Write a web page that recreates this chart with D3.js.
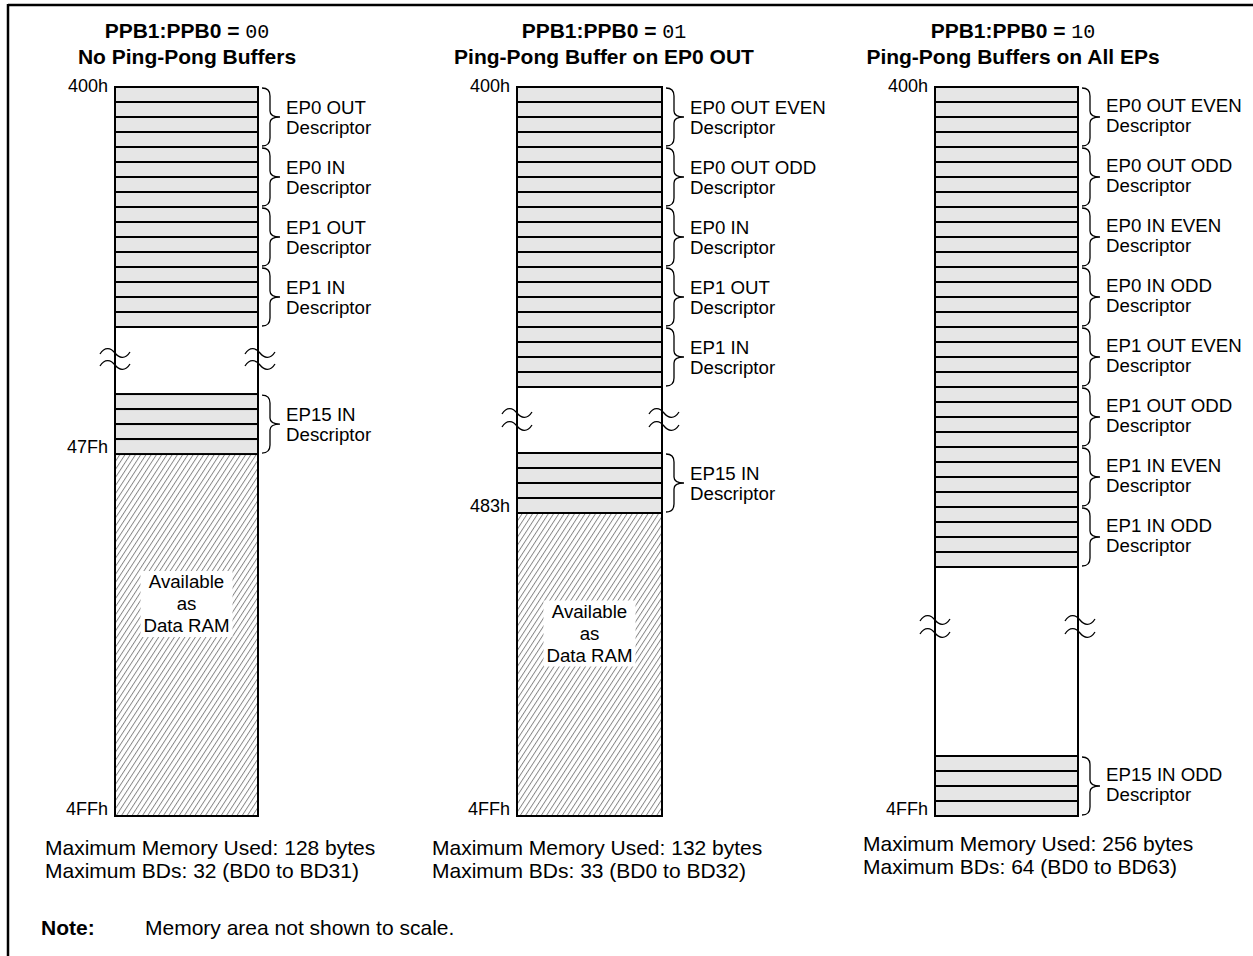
<!DOCTYPE html>
<html><head><meta charset="utf-8">
<script src="https://cdn.jsdelivr.net/npm/d3@7"></script>
<style>
body{margin:0;background:#fff}
svg{display:block}
text{font-family:"Liberation Sans",Arial,sans-serif;fill:#000}
</style>
</head><body><svg id="c" width="1253" height="956"></svg>
<script>
// ---------- data ----------
const titlePrefix = "PPB1:PPB0 = ";
const modeCodes = ["00", "01", "10"];
const subtitles = ["No Ping-Pong Buffers", "Ping-Pong Buffer on EP0 OUT", "Ping-Pong Buffers on All EPs"];
const descriptors00 = ["EP0 OUT", "EP0 IN", "EP1 OUT", "EP1 IN"];
const descriptors01 = ["EP0 OUT EVEN", "EP0 OUT ODD", "EP0 IN", "EP1 OUT", "EP1 IN"];
const descriptors10 = ["EP0 OUT EVEN", "EP0 OUT ODD", "EP0 IN EVEN", "EP0 IN ODD", "EP1 OUT EVEN", "EP1 OUT ODD", "EP1 IN EVEN", "EP1 IN ODD"];
const lastDescriptors = ["EP15 IN", "EP15 IN", "EP15 IN ODD"];
const descriptorWord = "Descriptor";
const startAddresses = ["400h", "400h", "400h"];
const bdEndAddresses = ["47Fh", "483h", null];
const endAddresses = ["4FFh", "4FFh", "4FFh"];
const maxMemoryBytes = [128, 132, 256];
const maxBDs = [32, 33, 64];
const bdRanges = ["BD0 to BD31", "BD0 to BD32", "BD0 to BD63"];
const bytesPerDescriptor = 4;
const freeRamLabel = ["Available", "as", "Data RAM"];
const noteLabel = "Note:";
const noteText = "Memory area not shown to scale.";

// ---------- layout ----------
const W = 1253, H = 956;
const svg = d3.select("#c");
const boxX = [[115, 258], [517, 662], [935, 1078]];
const titleCx = [187, 604, 1013];
const gapUnits = [4.47, 4.4, 12.6];
const totalUnits = 48.6;
const boxTop = 87, unitPx = 15;
const breakOffsets = [[26, 38], [26, 39], [53, 66]];
const footerX = [45, 432, 863];
const footerY = [[855, 878], [855, 878], [851, 874]];
const labelShift = [-2, -2, -4];
const descLists = [descriptors00, descriptors01, descriptors10];

const defs = svg.append("defs");
const pat = defs.append("pattern").attr("id", "hatch").attr("patternUnits", "userSpaceOnUse")
  .attr("width", 4.4).attr("height", 10).attr("patternTransform", "rotate(33)");
pat.append("line").attr("x1", 0.5).attr("y1", 0).attr("x2", 0.5).attr("y2", 10)
  .attr("stroke", "#666").attr("stroke-width", 0.8);

// frame
svg.append("line").attr("x1", 8).attr("y1", 5).attr("x2", W).attr("y2", 5).attr("stroke", "#000").attr("stroke-width", 2.5);
svg.append("line").attr("x1", 8).attr("y1", 4).attr("x2", 8).attr("y2", H).attr("stroke", "#000").attr("stroke-width", 2.5);

function brace(g, xr, y0, y1) {
  const ym = (y0 + y1) / 2, x0 = xr + 4, x1 = xr + 12, x2 = xr + 22;
  g.append("path")
    .attr("d", `M${x0},${y0 + 1} Q${x1},${y0 + 1} ${x1},${y0 + 9} L${x1},${ym - 6} Q${x1},${ym} ${x2},${ym} Q${x1},${ym} ${x1},${ym + 6} L${x1},${y1 - 9} Q${x1},${y1 - 1} ${x0},${y1 - 1}`)
    .attr("fill", "none").attr("stroke", "#000").attr("stroke-width", 1.3);
}
function tilde(g, x, y) {
  g.append("path")
    .attr("d", `M${x - 15},${y + 1} C${x - 10},${y - 7} ${x - 4},${y - 5} ${x},${y} C${x + 4},${y + 5} ${x + 10},${y + 7} ${x + 15},${y - 1}`)
    .attr("fill", "none").attr("stroke", "#000").attr("stroke-width", 1.3);
}

descLists.forEach((descs, p) => {
  const g = svg.append("g");
  const [xl, xr] = boxX[p];
  const y = d3.scaleLinear().domain([0, totalUnits]).range([boxTop, boxTop + totalUnits * unitPx]);
  const topRows = descs.length * bytesPerDescriptor;
  const gapEnd = topRows + gapUnits[p];
  const botEnd = gapEnd + bytesPerDescriptor;

  // titles
  const t1 = g.append("text").attr("x", titleCx[p]).attr("y", 38).attr("text-anchor", "middle")
    .style("font-size", "21px");
  t1.append("tspan").style("font-weight", "bold").text(titlePrefix);
  t1.append("tspan").style("font-family", "'Liberation Mono','Courier New',monospace").style("font-size", "20px").text(modeCodes[p]);
  g.append("text").attr("x", titleCx[p]).attr("y", 64).attr("text-anchor", "middle")
    .style("font-size", "21px").style("font-weight", "bold").text(subtitles[p]);

  // free / hatched area
  if (totalUnits - botEnd > 0.5) {
    g.append("rect").attr("x", xl).attr("y", y(botEnd)).attr("width", xr - xl).attr("height", y(totalUnits) - y(botEnd))
      .attr("fill", "url(#hatch)");
    const cy = (y(botEnd) + y(totalUnits)) / 2 - 31;
    const cx = (xl + xr) / 2;
    g.append("rect").attr("x", cx - 46).attr("y", cy - 33).attr("width", 92).attr("height", 66).attr("fill", "#fff");
    freeRamLabel.forEach((s, i) => g.append("text").attr("x", cx).attr("y", cy - 16 + i * 22)
      .attr("text-anchor", "middle").style("font-size", "18.7px").text(s));
  }

  // rows
  const rowIdx = d3.range(topRows).concat(d3.range(bytesPerDescriptor).map(i => gapEnd + i));
  g.selectAll("rect.row").data(rowIdx).join("rect").attr("class", "row")
    .attr("x", xl).attr("y", d => y(d)).attr("width", xr - xl).attr("height", y(1) - y(0))
    .attr("fill", "#e6e6e6").attr("stroke", "#000").attr("stroke-width", 2);

  // box sides
  g.append("line").attr("x1", xl).attr("x2", xl).attr("y1", y(0) - 1).attr("y2", y(totalUnits) + 1).attr("stroke", "#000").attr("stroke-width", 2);
  g.append("line").attr("x1", xr).attr("x2", xr).attr("y1", y(0) - 1).attr("y2", y(totalUnits) + 1).attr("stroke", "#000").attr("stroke-width", 2);
  g.append("line").attr("x1", xl - 1).attr("x2", xr + 1).attr("y1", y(totalUnits)).attr("y2", y(totalUnits)).attr("stroke", "#000").attr("stroke-width", 2);

  // breaks
  breakOffsets[p].forEach(o => {
    tilde(g, xl, y(topRows) + o);
    tilde(g, xr + 2, y(topRows) + o);
  });

  // braces + labels
  const segs = descs.map((d, i) => ({ name: d, a: i * bytesPerDescriptor, b: (i + 1) * bytesPerDescriptor }))
    .concat([{ name: lastDescriptors[p], a: gapEnd, b: botEnd }]);
  segs.forEach(s => {
    const y0 = y(s.a), y1 = y(s.b), ym = (y0 + y1) / 2 + labelShift[p];
    brace(g, xr, y0, y1);
    g.append("text").attr("x", xr + 28).attr("y", ym - 1).style("font-size", "18.7px").text(s.name);
    g.append("text").attr("x", xr + 28).attr("y", ym + 19).style("font-size", "18.7px").text(descriptorWord);
  });

  // addresses
  g.append("text").attr("x", xl - 7).attr("y", y(0) + 5).attr("text-anchor", "end").style("font-size", "18px").text(startAddresses[p]);
  if (bdEndAddresses[p]) g.append("text").attr("x", xl - 7).attr("y", y(botEnd) - 1).attr("text-anchor", "end").style("font-size", "18px").text(bdEndAddresses[p]);
  g.append("text").attr("x", xl - 7).attr("y", y(totalUnits) - 1).attr("text-anchor", "end").style("font-size", "18px").text(endAddresses[p]);

  // footer
  g.append("text").attr("x", footerX[p]).attr("y", footerY[p][0]).style("font-size", "21px")
    .text(`Maximum Memory Used: ${maxMemoryBytes[p]} bytes`);
  g.append("text").attr("x", footerX[p]).attr("y", footerY[p][1]).style("font-size", "21px")
    .text(`Maximum BDs: ${maxBDs[p]} (${bdRanges[p]})`);
});

svg.append("text").attr("x", 41).attr("y", 935).style("font-size", "21px").style("font-weight", "bold").text(noteLabel);
svg.append("text").attr("x", 145).attr("y", 935).style("font-size", "21px").text(noteText);
</script>
</body></html>
